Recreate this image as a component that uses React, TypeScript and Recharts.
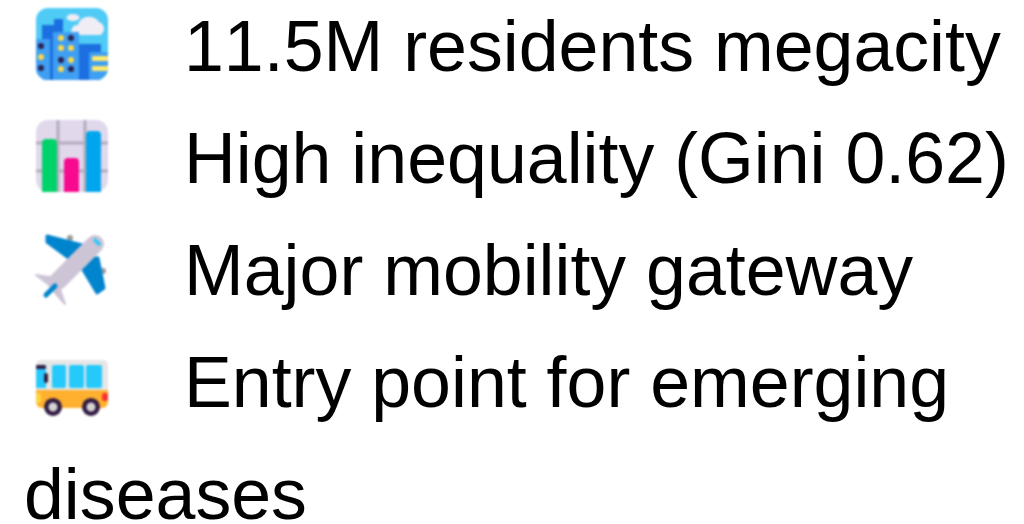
import { Scatter, ScatterChart, XAxis, YAxis } from 'recharts';

// one entry per printed line
const lineTexts = [
  '11.5M residents megacity',
  'High inequality (Gini 0.62)',
  'Major mobility gateway',
  'Entry point for emerging',
  'diseases',
];
const lineIcons = ['city', 'chart', 'plane', 'bus', ''];
const lineIndents = [1, 1, 1, 1, 0];
const lineRows = [0, 1, 2, 3, 4];

const rows = lineTexts.map((text, i) => ({
  text,
  icon: lineIcons[i],
  indent: lineIndents[i],
  row: lineRows[i],
}));

function CityIcon() {
  return (
    <g>
      <clipPath id="cityClip">
        <rect width={72} height={72} rx={12} />
      </clipPath>
      <g clipPath="url(#cityClip)">
        <rect width={72} height={72} fill="#4FCBF6" />
        <ellipse cx={37} cy={9.5} rx={6.5} ry={3.5} fill="#F1EDF5" />
        <path d="M37 27 a6 6 0 0 1 5 -10 a11 9 0 0 1 21 -3 a7 7 0 0 1 1 13 Z" fill="#F1EDF5" />
        <path d="M6 72 V17 H18 V11 H27 V36 H65 V72 Z" fill="#1C6FE0" />
        <rect x={0} y={31} width={14} height={41} fill="#3F9FF2" />
        <rect x={17} y={24} width={26} height={48} fill="#3F9FF2" />
        <rect x={53} y={44} width={19} height={28} rx={2} fill="#3F9FF2" />
        <rect x={56} y={48} width={16} height={5} rx={1} fill="#FFE86B" />
        <rect x={56} y={58} width={16} height={5} rx={1} fill="#FFE86B" />
        {[38, 48, 60, 69].map((cy, i) => (
          <g key={cy}>
            <circle cx={25} cy={cy - 8} r={3} fill={i === 2 ? '#2B2050' : '#FFD84A'} />
            <circle cx={35} cy={cy - 8} r={3} fill={i === 0 || i === 3 ? '#2B2050' : '#FFD84A'} />
          </g>
        ))}
        <circle cx={5} cy={38} r={3} fill="#2B2050" />
        <circle cx={5} cy={49} r={3} fill="#FFD84A" />
        <circle cx={5} cy={60} r={3} fill="#2B2050" />
      </g>
    </g>
  );
}

function ChartIcon() {
  return (
    <g>
      <rect width={72} height={72} rx={12} fill="#E1D8EC" />
      <path d="M22 0 V72 M49 0 V72 M0 23 H72 M0 51 H72" stroke="#B4ACBC" strokeWidth={3} />
      <path d="M6 72 V23 a4 4 0 0 1 4 -4 H17 a4 4 0 0 1 4 4 V72 Z" fill="#00D26A" />
      <path d="M28 72 V42 a4 4 0 0 1 4 -4 H39 a4 4 0 0 1 4 4 V72 Z" fill="#F70A8D" />
      <path d="M50 72 V15 a4 4 0 0 1 4 -4 H61 a4 4 0 0 1 4 4 V72 Z" fill="#00A6ED" />
    </g>
  );
}

function PlaneIcon() {
  return (
    <g>
      <circle cx={34} cy={6} r={3} fill="#9B9B9B" />
      <circle cx={67} cy={39} r={3} fill="#9B9B9B" />
      <path d="M11 4 L46 13 L34 27 L11 10 Z" fill="#0084CE" stroke="#0084CE" strokeWidth={3} strokeLinejoin="round" />
      <path d="M47 26 L62 26 L68 56 L61 61 L46 36 Z" fill="#0084CE" stroke="#0084CE" strokeWidth={3} strokeLinejoin="round" />
      <path d="M0 43 L20 46 L29 72 L20 62 L12 52 Z" fill="#CDC4D6" stroke="#CDC4D6" strokeWidth={2} strokeLinejoin="round" />
      <path d="M59 12 L22 49" stroke="#CDC4D6" strokeWidth={18} strokeLinecap="round" />
      <path d="M10 63 L19 54" stroke="#0084CE" strokeWidth={5} strokeLinecap="round" />
      <path d="M59 8 L63 12" stroke="#26C9FC" strokeWidth={3.5} strokeLinecap="round" />
    </g>
  );
}

function BusIcon() {
  return (
    <g transform="translate(0 16)">
      <path d="M0 30 V5 a5 5 0 0 1 5 -5 H67 a5 5 0 0 1 5 5 V30 Z" fill="#E6E6E6" />
      <path d="M0 30 H72 V42 a6 6 0 0 1 -6 6 H6 a6 6 0 0 1 -6 -6 Z" fill="#FFB02E" />
      <rect x={0} y={5} width={10} height={23} fill="#26C9FC" />
      <rect x={16} y={5} width={14} height={23} rx={2} fill="#26C9FC" />
      <rect x={33} y={5} width={15} height={23} rx={2} fill="#26C9FC" />
      <rect x={50} y={5} width={16} height={23} rx={2} fill="#26C9FC" />
      <rect x={0} y={5} width={10} height={4} rx={1.5} fill="#321B41" />
      <rect x={8} y={13} width={4} height={10} rx={2} fill="#321B41" />
      <rect x={0} y={33} width={5} height={10} rx={1.5} fill="#FCD53F" />
      <rect x={66} y={33} width={6} height={8} rx={2} fill="#F8312F" />
      {[17, 55].map((cx) => (
        <g key={cx}>
          <circle cx={cx} cy={47} r={9} fill="#321B41" />
          <circle cx={cx} cy={47} r={4.5} fill="#D3D3D3" />
        </g>
      ))}
    </g>
  );
}

const iconParts: Record<string, () => JSX.Element> = {
  city: CityIcon,
  chart: ChartIcon,
  plane: PlaneIcon,
  bus: BusIcon,
};

function ListLine(props: any) {
  const { cx, cy, payload } = props;
  const Icon = iconParts[payload.icon];
  return (
    <g>
      {Icon && (
        <g transform={`translate(${cx - 148} ${cy - 36})`} style={{ filter: 'blur(0.9px)' }}>
          <Icon />
        </g>
      )}
      <text
        x={cx}
        y={cy + 27}
        fontFamily="'Liberation Sans', Arial, sans-serif"
        fontSize={71.7}
        fill="#000"
        style={{ filter: 'blur(0.4px)', fontKerning: 'none' }}
      >
        {payload.text}
      </text>
    </g>
  );
}

export default function App() {
  return (
    <div style={{ position: 'absolute', left: 0, top: 0, width: 1024, height: 524, background: '#fff' }}>
      <ScatterChart width={1024} height={524} margin={{ top: 0, right: 0, bottom: 0, left: 0 }} data={rows}>
        <XAxis type="number" dataKey="indent" domain={[-0.15, 6.25]} hide />
        <YAxis type="number" dataKey="row" domain={[-0.393, 4.286]} reversed hide />
        <Scatter data={rows} isAnimationActive={false} shape={ListLine} />
      </ScatterChart>
    </div>
  );
}
